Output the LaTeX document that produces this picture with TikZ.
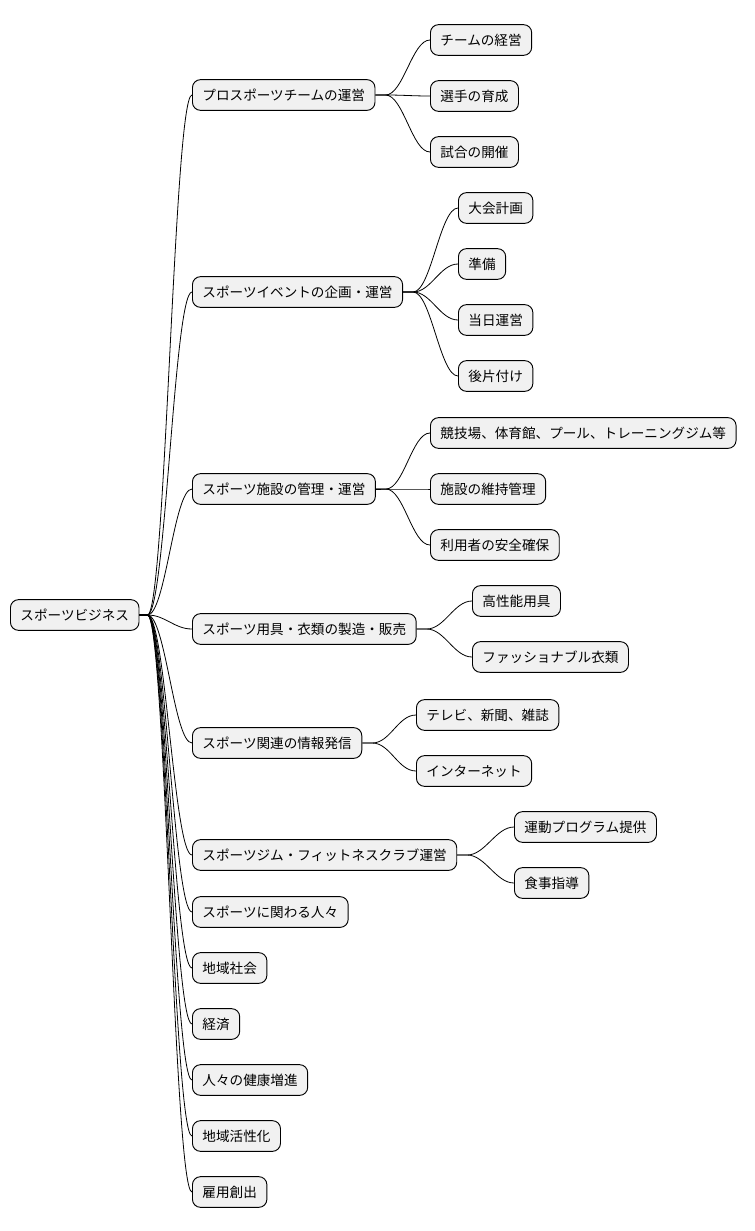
\documentclass[tikz,border=0pt]{standalone}
\usepackage{fontspec}
\setmainfont{Noto Sans CJK JP}
\begin{document}
\begin{tikzpicture}[x=0.75pt,y=0.75pt,yscale=-1,
  box/.style={draw=black,fill={rgb,255:red,241;green,241;blue,241},rounded corners=6pt,
    anchor=west,minimum height=23pt,inner xsep=7.5pt,inner ysep=0pt,line width=0.7pt,
    font=\fontsize{10.2}{12}\selectfont},
  link/.style={line width=0.6pt}]
\useasboundingbox (0,0) rectangle (754,1231);
% root
\node[box] (root) at (10,615) {スポーツビジネス};
% first level
\foreach \n/\y/\t in {a/95/プロスポーツチームの運営,b/292/スポーツイベントの企画・運営,
  c/489/スポーツ施設の管理・運営,d/629/スポーツ用具・衣類の製造・販売,
  e/743/スポーツ関連の情報発信,f/855/スポーツジム・フィットネスクラブ運営,
  g/912/スポーツに関わる人々,h/968/地域社会,i/1024/経済,j/1080/人々の健康増進,
  k/1136/地域活性化,l/1192/雇用創出}{
  \node[box] (\n) at (192,\y) {\t};
  \draw[link] (root.east) -- ++(8,0) .. controls +(18,0) and +(-18,0) .. (\n.west);
}
% second level
\foreach \p/\n/\x/\y/\t in {a/a1/430/40/チームの経営,a/a2/430/96/選手の育成,a/a3/430/152/試合の開催,
  b/b1/458/208/大会計画,b/b2/458/264/準備,b/b3/458/320/当日運営,b/b4/458/376/後片付け,
  c/c1/430/433/競技場、体育館、プール、トレーニングジム等,c/c2/430/489/施設の維持管理,c/c3/430/545/利用者の安全確保,
  d/d1/472/601/高性能用具,d/d2/472/657/ファッショナブル衣類,
  e/e1/416/715/テレビ、新聞、雑誌,e/e2/416/771/インターネット,
  f/f1/514/827/運動プログラム提供,f/f2/514/883/食事指導}{
  \node[box] (\n) at (\x,\y) {\t};
  \draw[link] (\p.east) -- ++(10,0) .. controls +(18,0) and +(-18,0) .. (\n.west);
}
\end{tikzpicture}
\end{document}
